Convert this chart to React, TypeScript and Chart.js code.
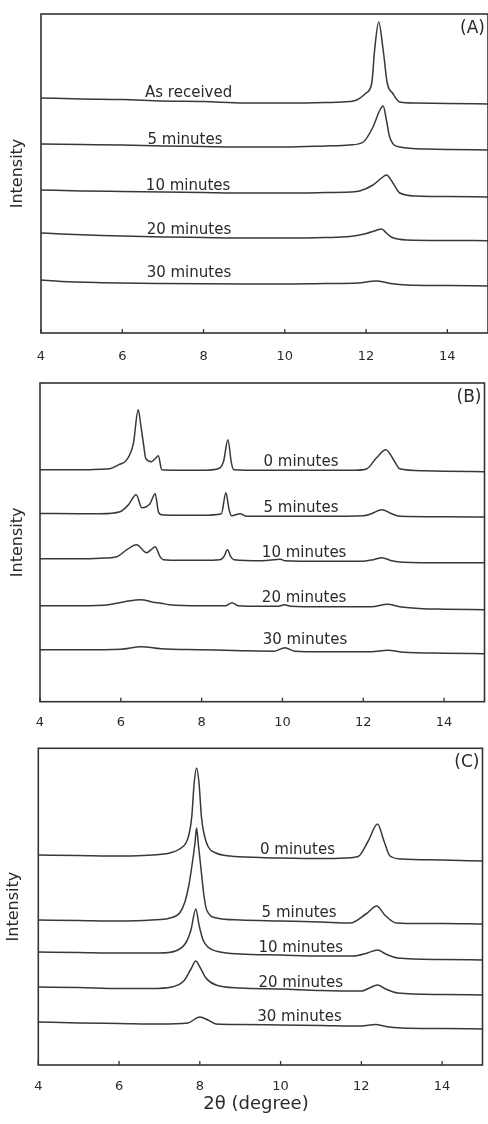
import React, { useEffect, useRef } from 'react';
import { Chart, registerables } from 'chart.js';

Chart.register(...registerables);

type P = [number, number];

// ---------- shared axis data ----------
const X_MIN = 4;
const X_MAX = 15;
const X_TICKS = [4, 6, 8, 10, 12, 14];
const Y_TITLE = 'Intensity';
const X_TITLE = '2θ (degree)';

// ---------- panel (A) ----------
const A_LABELS = ['As received', '5 minutes', '10 minutes', '20 minutes', '30 minutes'];
const A_asReceived: P[] = [[4, 235], [5, 234], [6, 233.5], [7, 232], [8, 231.5], [9, 230], [10, 230], [11, 230.5], [11.6, 231.5], [11.77, 233], [12.0, 240], [12.14, 250], [12.21, 283], [12.31, 311], [12.42, 283], [12.52, 250], [12.65, 240], [12.83, 231], [13.2, 230], [14, 229.5], [15, 229]];
const A_5min: P[] = [[4, 189], [5, 188.5], [6, 188], [7, 187], [8, 186.5], [9, 186], [10, 186], [11, 187], [11.6, 188], [11.93, 191], [12.17, 206], [12.34, 223], [12.42, 227], [12.5, 213], [12.58, 196], [12.83, 186], [13.5, 184], [14, 183.5], [15, 183]];
const A_10min: P[] = [[4, 143], [5, 142], [6, 141.5], [7, 141], [8, 140.5], [9, 140], [10, 140], [11, 140.5], [11.6, 141], [11.84, 142], [12.17, 148], [12.38, 155], [12.5, 158], [12.66, 150], [12.83, 140], [13.24, 137], [14, 136.5], [15, 136]];
const A_20min: P[] = [[4, 100], [4.5, 99], [5.5, 97.5], [7, 96], [8, 95.5], [9, 95], [10, 95], [11, 95.5], [11.6, 96.5], [12.01, 99.5], [12.2, 102], [12.38, 104], [12.5, 100], [12.62, 96], [13, 93], [14, 92.5], [15, 92.3]];
const A_30min: P[] = [[4, 53], [4.5, 51.5], [5.5, 50.3], [7, 49.5], [9, 49], [10, 49], [11, 49.5], [11.8, 50], [12.25, 52], [12.6, 49.5], [13, 48], [14, 47.5], [15, 47]];

// ---------- panel (B) ----------
const B_LABELS = ['0 minutes', '5 minutes', '10 minutes', '20 minutes', '30 minutes'];
const B_0min: P[] = [[4, 232], [5, 232], [5.5, 232.5], [5.73, 233], [5.95, 237], [6.15, 242], [6.31, 258], [6.43, 292], [6.5, 275], [6.56, 258], [6.62, 243], [6.76, 240], [6.85, 243], [6.93, 246], [7.01, 232], [7.5, 231.5], [8, 231.5], [8.41, 233], [8.54, 240], [8.65, 262], [8.74, 238], [8.8, 232], [9.5, 231.5], [10, 231.5], [11, 231.5], [11.8, 231.5], [12.09, 233], [12.33, 244], [12.56, 252], [12.75, 242], [12.9, 233], [13.5, 231], [14, 230.5], [15, 230]];
const B_5min: P[] = [[4, 188.3], [5, 188], [5.5, 188], [5.98, 190], [6.19, 197], [6.38, 207], [6.52, 194], [6.72, 198], [6.85, 208], [6.93, 190], [7.01, 187], [7.5, 186.5], [8, 186.5], [8.49, 188], [8.6, 209], [8.68, 192], [8.74, 186], [8.95, 188], [9.1, 185.5], [10, 185.5], [11, 185.5], [12, 186], [12.2, 188], [12.46, 192], [12.7, 188], [12.9, 185.5], [14, 185], [15, 184.7]];
const B_10min: P[] = [[4, 143], [5, 143], [5.5, 143.5], [5.9, 145], [6.15, 152], [6.39, 157], [6.64, 149], [6.75, 152], [6.85, 155], [6.97, 145], [7.05, 142], [7.5, 141.5], [8, 141.5], [8.45, 142], [8.55, 145], [8.64, 152], [8.72, 145], [8.8, 142], [9.5, 141], [9.95, 142.5], [10.05, 141], [11, 140.5], [12, 140.5], [12.25, 142], [12.46, 144], [12.7, 141], [13, 139.5], [14, 139], [15, 139]];
const B_20min: P[] = [[4, 96], [5, 96], [5.7, 97], [6.1, 100], [6.5, 102], [6.8, 99.5], [7.0, 98.5], [7.2, 97], [8, 96], [8.6, 96], [8.75, 99], [8.9, 96], [9.5, 95.5], [9.9, 95.5], [10.05, 97], [10.2, 95.5], [11, 95], [12.2, 95], [12.6, 97.5], [12.9, 95], [13.5, 93], [14, 92.5], [15, 92]];
const B_30min: P[] = [[4, 52], [5, 52], [6, 52.5], [6.5, 55], [7, 53], [8, 52], [9, 51], [9.8, 50.5], [10.06, 54], [10.3, 50.5], [11, 50], [12.2, 50], [12.6, 51.5], [13, 49.5], [14, 48.5], [15, 48]];

// ---------- panel (C) ----------
const C_LABELS = ['0 minutes', '5 minutes', '10 minutes', '20 minutes', '30 minutes'];
const C_0min: P[] = [[4, 210], [5, 209.5], [6, 209], [6.6, 209.5], [7.0, 210.5], [7.26, 212], [7.5, 216], [7.67, 223], [7.74, 232], [7.8, 248], [7.86, 282], [7.92, 297], [7.98, 282], [8.04, 248], [8.1, 232], [8.21, 218], [8.4, 212], [8.75, 209], [9.5, 207.5], [10, 207], [11, 206.5], [11.6, 207], [11.92, 208.5], [12.17, 224], [12.4, 241], [12.56, 224], [12.71, 209], [13, 206], [14, 205], [15, 204]];
const C_5min: P[] = [[4, 145], [5, 144.5], [6, 144], [6.8, 145], [7.26, 147], [7.5, 152], [7.63, 163], [7.72, 178], [7.8, 198], [7.88, 222], [7.92, 237], [7.96, 222], [8.04, 192], [8.1, 170], [8.17, 155], [8.42, 147], [9, 145], [10, 144], [11, 143], [11.72, 142], [12.13, 151.5], [12.38, 159], [12.58, 150], [12.87, 142], [13.5, 141.5], [14, 141.5], [15, 141]];
const C_10min: P[] = [[4, 113], [5, 112.5], [6, 112], [7, 112], [7.4, 114], [7.65, 122], [7.78, 135], [7.9, 156], [7.98, 140], [8.08, 125], [8.2, 118], [8.5, 113], [9, 111], [10, 110], [11, 109], [11.8, 109], [12.15, 112], [12.4, 115], [12.6, 111], [12.9, 107], [14, 105.5], [15, 105]];
const C_20min: P[] = [[4, 78], [5, 77.5], [6, 76.5], [6.8, 76.5], [7.3, 78], [7.6, 84], [7.78, 96], [7.9, 104], [8.0, 98], [8.15, 87], [8.4, 80], [9, 77], [10, 76], [11, 74.5], [12, 74], [12.2, 77], [12.4, 80], [12.6, 76], [12.9, 72], [14, 70.5], [15, 70]];
const C_30min: P[] = [[4, 43], [5, 42], [6, 41.5], [7, 41], [7.7, 42], [8.0, 48], [8.2, 45], [8.4, 41], [9, 40.5], [10, 40], [11, 39.5], [12, 39], [12.35, 40.5], [12.6, 38.5], [13, 37], [14, 36.5], [15, 36]];

// ---------- styling / layout (kept apart from the data) ----------
const FONT = '"DejaVu Sans", "Liberation Sans", Arial, sans-serif';
const INK = '#2a2a2a';
const FRAME = '#333333';
const LINE = '#383838';
const WIDTH = 488;

interface PanelSpec {
  top: number;
  height: number;
  pad: { left: number; top: number; right: number; bottom: number };
  yMax: number;
  series: P[][];
  labels: string[];
  labelAt: P[];
  letter: string;
  yTitleX: number;
  tickGap: number;
  xTitle?: { text: string; x: number; y: number };
}

const PANELS: PanelSpec[] = [
  {
    top: 0, height: 372,
    pad: { left: 41, top: 14, right: 0, bottom: 39 },
    yMax: 319,
    series: [A_asReceived, A_5min, A_10min, A_20min, A_30min],
    labels: A_LABELS,
    labelAt: [[6.56, 241.3], [6.62, 194.7], [6.58, 148], [6.6, 104.7], [6.6, 61.3]],
    letter: '(A)', yTitleX: 18.3, tickGap: 22,
  },
  {
    top: 372, height: 368,
    pad: { left: 40, top: 11, right: 3.5, bottom: 38.3 },
    yMax: 318.7,
    series: [B_0min, B_5min, B_10min, B_20min, B_30min],
    labels: B_LABELS,
    labelAt: [[9.53, 241.3], [9.53, 195.3], [9.49, 150.3], [9.49, 105.3], [9.51, 63]],
    letter: '(B)', yTitleX: 18, tickGap: 20,
  },
  {
    top: 740, height: 384,
    pad: { left: 38.3, top: 8.3, right: 5.5, bottom: 59 },
    yMax: 316.7,
    series: [C_0min, C_5min, C_10min, C_20min, C_30min],
    labels: C_LABELS,
    labelAt: [[9.49, 216.3], [9.53, 153], [9.45, 118], [9.45, 83], [9.42, 49]],
    letter: '(C)', yTitleX: 14.5, tickGap: 20,
    xTitle: { text: X_TITLE, x: 256, y: 363 },
  },
];

function Panel({ spec }: { spec: PanelSpec }) {
  const ref = useRef<HTMLCanvasElement>(null);

  useEffect(() => {
    const canvas = ref.current;
    if (!canvas) return;

    const decor = {
      id: 'decor',
      afterDatasetsDraw(chart: any) {
        const { ctx, chartArea: a, scales } = chart;
        const xs = scales.x;
        const ys = scales.y;
        ctx.save();
        // frame
        ctx.strokeStyle = FRAME;
        ctx.lineWidth = 1.6;
        ctx.strokeRect(a.left, a.top, a.right - a.left, a.bottom - a.top);
        // inward ticks
        ctx.lineWidth = 1.3;
        ctx.beginPath();
        for (const v of X_TICKS) {
          const px = xs.getPixelForValue(v);
          ctx.moveTo(px, a.bottom);
          ctx.lineTo(px, a.bottom - 4);
        }
        ctx.stroke();
        // tick labels
        ctx.fillStyle = INK;
        ctx.textAlign = 'center';
        ctx.textBaseline = 'alphabetic';
        ctx.font = `13px ${FONT}`;
        for (const v of X_TICKS) {
          ctx.fillText(String(v), xs.getPixelForValue(v), a.bottom + spec.tickGap + 0.365 * 13);
        }
        // y title
        ctx.save();
        ctx.translate(spec.yTitleX + 0.246 * 16, (a.top + a.bottom) / 2);
        ctx.rotate(-Math.PI / 2);
        ctx.font = `16px ${FONT}`;
        ctx.textAlign = 'center';
        ctx.fillText(Y_TITLE, 0, 0);
        ctx.restore();
        // panel letter
        ctx.font = `17px ${FONT}`;
        ctx.textAlign = 'right';
        ctx.fillText(spec.letter, a.right - 3, a.top + 13.5 + 0.3 * 17);
        // curve labels
        ctx.font = `15px ${FONT}`;
        ctx.textAlign = 'left';
        spec.labels.forEach((t, i) => {
          const [lx, ly] = spec.labelAt[i];
          ctx.fillText(t, xs.getPixelForValue(lx), ys.getPixelForValue(ly) + 0.365 * 15);
        });
        // x title
        if (spec.xTitle) {
          ctx.font = `18px ${FONT}`;
          ctx.textAlign = 'center';
          ctx.fillText(spec.xTitle.text, spec.xTitle.x, spec.xTitle.y + 0.315 * 18);
        }
        ctx.restore();
      },
    };

    const chart = new Chart(canvas, {
      type: 'line',
      data: {
        datasets: spec.series.map((s) => ({
          data: s.map(([x, y]) => ({ x, y })),
          borderColor: LINE,
          borderWidth: 1.5,
          pointRadius: 0,
          fill: false,
          cubicInterpolationMode: 'monotone' as const,
        })),
      },
      options: {
        responsive: false,
        animation: false,
        events: [],
        layout: { padding: spec.pad },
        scales: {
          x: { type: 'linear', min: X_MIN, max: X_MAX, display: false },
          y: { type: 'linear', min: 0, max: spec.yMax, display: false },
        },
        plugins: { legend: { display: false }, tooltip: { enabled: false } },
      },
      plugins: [decor],
    });
    return () => chart.destroy();
  }, [spec]);

  return (
    <canvas
      ref={ref}
      width={WIDTH}
      height={spec.height}
      style={{ position: 'absolute', left: 0, top: spec.top, width: WIDTH, height: spec.height, display: 'block' }}
    />
  );
}

export default function App() {
  return (
    <div style={{ position: 'absolute', left: 0, top: 0, width: WIDTH, height: 1124, background: '#ffffff', overflow: 'hidden' }}>
      {PANELS.map((p, i) => (
        <Panel key={i} spec={p} />
      ))}
    </div>
  );
}
